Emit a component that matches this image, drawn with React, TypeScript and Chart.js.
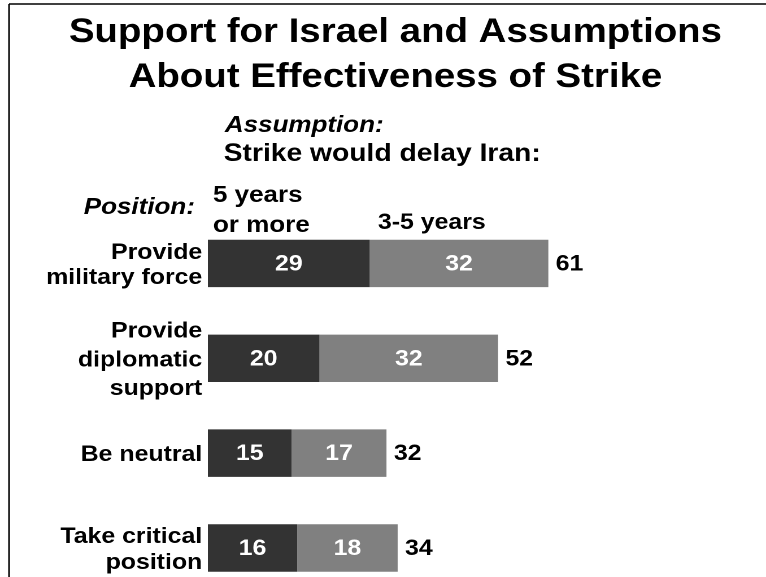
import React, { useEffect, useRef } from "react";
import { Chart, registerables } from "chart.js";

Chart.register(...registerables);

const categories: string[][] = [
  ["Provide", "military force"],
  ["Provide", "diplomatic", "support"],
  ["Be neutral"],
  ["Take critical", "position"],
];
const fiveOrMore: number[] = [29, 20, 15, 16];
const threeToFive: number[] = [32, 32, 17, 18];
const totals: number[] = [61, 52, 32, 34];
const titleLines: string[] = ["Support for Israel and Assumptions", "About Effectiveness of Strike"];
const seriesNames: string[][] = [["5 years", "or more"], ["3-5 years"]];

const FAMILY = "'Liberation Sans', Arial, Helvetica, sans-serif";
const W = 678;
const H = 610;
const SX = 766 / W;
const LABEL_LINE_HEIGHTS = [1.12, 1.3, 1.2, 1.2];

const overlay = {
  id: "overlay",
  beforeDraw(chart: any) {
    const ctx = chart.ctx;
    ctx.save();
    ctx.strokeStyle = "#000";
    ctx.lineWidth = 1.5;
    ctx.beginPath();
    ctx.moveTo(8, 4);
    ctx.lineTo(W, 4);
    ctx.moveTo(8, 4);
    ctx.lineTo(8, H);
    ctx.stroke();
    ctx.restore();
  },
  afterDraw(chart: any) {
    const ctx = chart.ctx;
    ctx.save();
    ctx.fillStyle = "#000";
    ctx.textBaseline = "alphabetic";
    ctx.textAlign = "left";
    ctx.font = `italic bold 23px ${FAMILY}`;
    ctx.fillText("Assumption:", 199, 132);
    ctx.font = `bold 25px ${FAMILY}`;
    ctx.fillText("Strike would delay Iran:", 198, 161);
    ctx.font = `italic bold 23px ${FAMILY}`;
    ctx.textAlign = "right";
    ctx.fillText("Position:", 172.5, 214);
    ctx.textAlign = "left";
    ctx.font = `bold 23px ${FAMILY}`;
    ctx.fillText(seriesNames[0][0], 188.5, 202);
    ctx.fillText(seriesNames[0][1], 188.5, 232);
    ctx.font = `bold 22px ${FAMILY}`;
    ctx.fillText(seriesNames[1][0], 334.5, 229);
    ctx.restore();
  },
  afterDatasetsDraw(chart: any) {
    const ctx = chart.ctx;
    ctx.save();
    ctx.font = `bold 22px ${FAMILY}`;
    ctx.textBaseline = "middle";
    chart.data.datasets.forEach((ds: any, di: number) => {
      const meta = chart.getDatasetMeta(di);
      meta.data.forEach((bar: any, i: number) => {
        const p = bar.getProps(["x", "y", "base"], true);
        ctx.fillStyle = "#fff";
        ctx.textAlign = "center";
        ctx.fillText(String(ds.data[i]), (p.x + p.base) / 2, p.y + 1);
      });
    });
    const last = chart.getDatasetMeta(chart.data.datasets.length - 1);
    last.data.forEach((bar: any, i: number) => {
      const p = bar.getProps(["x", "y"], true);
      ctx.fillStyle = "#000";
      ctx.textAlign = "left";
      ctx.fillText(String(totals[i]), p.x + 6.5, p.y + 1);
    });
    ctx.restore();
  },
};

export default function App() {
  const ref = useRef<HTMLCanvasElement>(null);
  useEffect(() => {
    if (!ref.current) return;
    const chart = new Chart(ref.current, {
      type: "bar",
      data: {
        labels: categories,
        datasets: [
          { label: "5 years or more", data: fiveOrMore, backgroundColor: "#333333", borderWidth: 0, barPercentage: 0.5, categoryPercentage: 1 },
          { label: "3-5 years", data: threeToFive, backgroundColor: "#808080", borderWidth: 0, barPercentage: 0.5, categoryPercentage: 1 },
        ],
      },
      options: {
        indexAxis: "y",
        animation: false,
        responsive: false,
        devicePixelRatio: 2,
        layout: { padding: { left: 22, right: 0, top: 0, bottom: 14.6 } },
        plugins: {
          legend: { display: false },
          tooltip: { enabled: false },
          title: {
            display: true,
            text: titleLines,
            color: "#000",
            font: { family: FAMILY, size: 34, weight: "bold", lineHeight: 45 / 34 },
            padding: { top: 10, bottom: 116 },
          },
        },
        scales: {
          x: { stacked: true, min: 0, max: 100, display: false },
          y: {
            stacked: true,
            grid: { display: false, drawTicks: false },
            border: { display: false },
            ticks: {
              color: "#000",
              padding: 5,
              labelOffset: 2,
              font: (c: any) => ({
                family: FAMILY,
                size: 22,
                weight: "bold",
                lineHeight: LABEL_LINE_HEIGHTS[c.index] ?? 1.2,
              }),
            },
            afterFit(scale: any) {
              scale.width = 162;
              scale.paddingTop = 0;
              scale.paddingBottom = 0;
            },
          },
        },
      },
      plugins: [overlay],
    });
    return () => chart.destroy();
  }, []);
  return (
    <div style={{ position: "fixed", left: 0, top: 0, width: 766, height: 577, overflow: "hidden", background: "#fff" }}>
      <div style={{ transform: `scaleX(${SX})`, transformOrigin: "0 0", width: W, height: H }}>
        <canvas ref={ref} width={W} height={H} style={{ display: "block" }} />
      </div>
    </div>
  );
}
